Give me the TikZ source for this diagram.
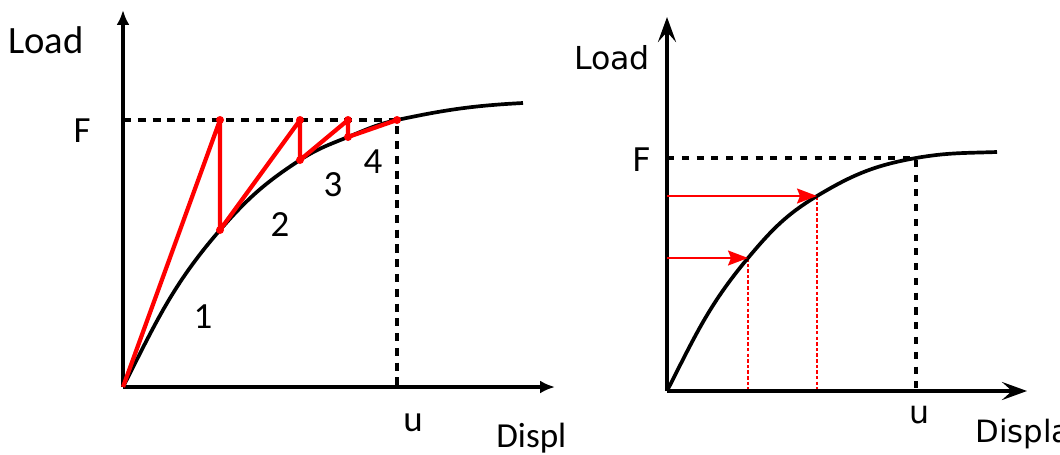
\documentclass[tikz,border=0pt]{standalone}
\usepackage{fontspec}
\setmainfont{Carlito}
\newfontfamily\rightfont{DejaVu Sans}
\usetikzlibrary{arrows.meta}
\definecolor{ink}{HTML}{000000}
\definecolor{hot}{HTML}{FF0000}
\begin{document}
\begin{tikzpicture}[x=0.02cm,y=0.02cm,text=ink,
 axisA/.style={draw=ink,line width=2.1pt,-{Latex[length=3mm,width=2.6mm]}},
 axisB/.style={draw=ink,line width=2.1pt,-{Stealth[length=5mm,width=3.6mm,inset=2mm]}},
 curve/.style={draw=ink,line width=2.1pt},
 guide/.style={draw=ink,line width=2pt,dash pattern=on 4.6pt off 3.8pt},
 guideB/.style={draw=ink,line width=2pt,dash pattern=on 4pt off 4.4pt},
 redpath/.style={draw=hot,line width=2.4pt,line join=round},
 push/.style={draw=hot,line width=1pt,-{Stealth[length=4mm,width=3mm,inset=.6mm]}},
 drop/.style={draw=hot,line width=.7pt,dash pattern=on 2pt off 1.2pt},
 lblA/.style={font=\fontsize{#1}{#1}\selectfont,inner sep=0pt},
 lblB/.style={font=\rightfont\fontsize{#1}{#1}\selectfont,inner sep=0pt}]
\path[use as bounding box] (0,0) rectangle (1060,454);
\coordinate (oA) at (123,67);
\coordinate (yA) at (123,444);
\coordinate (xA) at (555,67);
\coordinate (fA) at (123,334);
\coordinate (uA) at (397,67);
\coordinate (pA1) at (220,334);
\coordinate (qA1) at (220,224);
\coordinate (pA2) at (300,334);
\coordinate (qA2) at (300,294);
\coordinate (pA3) at (348,334);
\coordinate (qA3) at (348,317);
\coordinate (pA4) at (397,334);
\coordinate (eA) at (523,351);
\draw[guide] (fA)--(pA4)--(uA);
\draw[curve] (oA) to[out=63,in=229] (qA1) to[out=49,in=213] (qA2)
 to[out=33,in=202] (qA3) to[out=22,in=192] (pA4) to[out=12,in=183] (eA);
\draw[axisA] (oA)--(yA);
\draw[axisA] (oA)--(xA);
\draw[redpath] (oA)--(pA1)--(qA1)--(pA2)--(qA2)--(pA3)--(qA3)--(pA4);
\foreach \p in {pA1,qA1,pA2,qA2,pA3,qA3,pA4}
 \fill[hot] (\p) circle (4);
\node[lblA=22] (loadA) at (46,414) {Load};
\node[lblA=21] (forceA) at (82,323) {F};
\node[lblA=21] (stepA1) at (203,137) {1};
\node[lblA=21] (stepA2) at (280,229) {2};
\node[lblA=21] (stepA3) at (333,269) {3};
\node[lblA=21] (stepA4) at (373,292) {4};
\node[lblA=21] (dispA) at (413,31) {u};
\node[lblA=20,anchor=base west] (axisnameA) at (496,7) {Displ};
\coordinate (oB) at (667,63);
\coordinate (yB) at (667,437);
\coordinate (xB) at (1027,63);
\coordinate (fB) at (667,296);
\coordinate (hB1) at (667,196);
\coordinate (cB1) at (748,196);
\coordinate (hB2) at (667,258);
\coordinate (cB2) at (817,258);
\coordinate (pB) at (916,296);
\coordinate (uB) at (916,63);
\coordinate (dB1) at (748,63);
\coordinate (dB2) at (817,63);
\coordinate (eB) at (997,302);
\draw[guideB] (fB)--(pB)--(uB);
\draw[drop] (cB1)--(dB1);
\draw[drop] (cB2)--(dB2);
\draw[curve] (oB) to[out=63,in=230] (cB1) to[out=50,in=211] (cB2)
 to[out=31,in=190] (pB) to[out=10,in=182] (eB);
\draw[axisB] (oB)--(yB);
\draw[axisB] (oB)--(xB);
\draw[push] (hB1)--(cB1);
\draw[push] (hB2)--(cB2);
\node[lblB=18] (loadB) at (612,396) {Load};
\node[lblB=18.5] (forceB) at (642,294) {F};
\node[lblB=18] (dispB) at (920,39) {u};
\node[lblB=17.5,anchor=base west] (axisnameB) at (975,12) {Displa};
\end{tikzpicture}
\end{document}
